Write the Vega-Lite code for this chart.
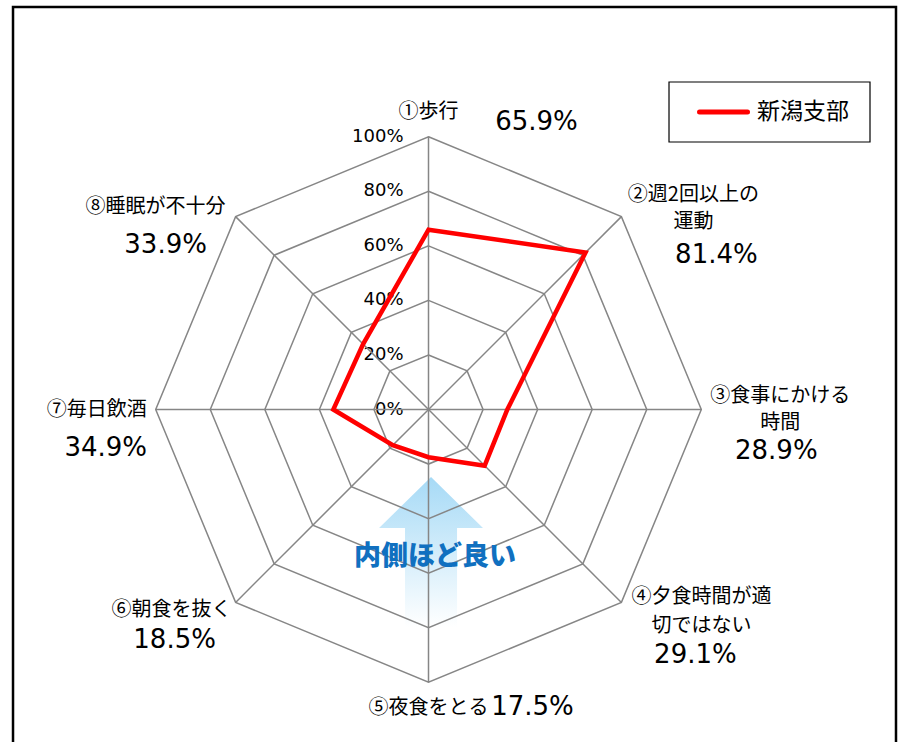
{
"$schema":"https://vega.github.io/schema/vega-lite/v6.json",
"width":899,"height":742,"padding":0,"autosize":{"type":"none"},
"background":"#ffffff",
"config":{"view":{"stroke":null},"font":"Noto Sans CJK JP"},
"datasets":{
 "scores":[
  {"k":0,"name":"①歩行","value":65.9},
  {"k":1,"name":["②週2回以上の","運動"],"value":81.4},
  {"k":2,"name":["③食事にかける","時間"],"value":28.9},
  {"k":3,"name":["④夕食時間が適","切ではない"],"value":29.1},
  {"k":4,"name":"⑤夜食をとる","value":17.5},
  {"k":5,"name":"⑥朝食を抜く","value":18.5},
  {"k":6,"name":"⑦毎日飲酒","value":34.9},
  {"k":7,"name":"⑧睡眠が不十分","value":33.9}],
 "rings":[
  {"level":20,"k":[0,1,2,3,4,5,6,7]},
  {"level":40,"k":[0,1,2,3,4,5,6,7]},
  {"level":60,"k":[0,1,2,3,4,5,6,7]},
  {"level":80,"k":[0,1,2,3,4,5,6,7]},
  {"level":100,"k":[0,1,2,3,4,5,6,7]}],
 "ticks":[{"level":0},{"level":20},{"level":40},{"level":60},{"level":80},{"level":100}],
 "one":[{"item":"frame"}]
},
"layer":[
 {"data":{"name":"one"},"mark":{"type":"rect","filled":false,"stroke":"#000000","strokeWidth":2.5},
  "encoding":{
   "x":{"datum":-152.31,"type":"quantitative","scale":{"domain":[-157.08,172.47],"nice":false,"zero":false},"axis":null},
   "x2":{"datum":171.37},
   "y":{"datum":147.55,"type":"quantitative","scale":{"domain":[-121.88,150.11],"nice":false,"zero":false},"axis":null},
   "y2":{"datum":-140}}},
 {"data":{"name":"one"},"mark":{"type":"point","shape":"M0,-1L0.693,-0.32L0.347,-0.32L0.347,1L-0.347,1L-0.347,-0.32L-0.693,-0.32Z","size":22500,"filled":true,"opacity":1,"strokeWidth":0,
   "fill":{"gradient":"linear","x1":0,"y1":0,"x2":0,"y2":1,"stops":[{"offset":0,"color":"#a6daf6"},{"offset":1,"color":"#ffffff"}]}},
  "encoding":{
   "x":{"datum":0.92,"type":"quantitative","scale":{"domain":[-157.08,172.47],"nice":false,"zero":false},"axis":null},
   "y":{"datum":-52.24,"type":"quantitative","scale":{"domain":[-121.88,150.11],"nice":false,"zero":false},"axis":null}}},
 {"data":{"name":"rings"},
  "transform":[{"flatten":["k"]},{"calculate":"datum.level*sin(datum.k*PI/4)","as":"ax"},{"calculate":"datum.level*cos(datum.k*PI/4)","as":"ay"}],
  "mark":{"type":"line","interpolate":"linear-closed","color":"#868686","strokeWidth":1.5},
  "encoding":{
   "x":{"field":"ax","type":"quantitative","scale":{"domain":[-157.08,172.47],"nice":false,"zero":false},"axis":null},
   "y":{"field":"ay","type":"quantitative","scale":{"domain":[-121.88,150.11],"nice":false,"zero":false},"axis":null},
   "detail":{"field":"level"},"order":{"field":"k"}}},
 {"data":{"name":"ticks"},"transform":[{"calculate":"datum.level+'%'","as":"tl"},{"calculate":"0","as":"zx"}],
  "mark":{"type":"text","align":"right","baseline":"middle","dx":-25,"fontSize":18,"font":"DejaVu Sans","color":"#000000"},
  "encoding":{
   "x":{"field":"zx","type":"quantitative","scale":{"domain":[-157.08,172.47],"nice":false,"zero":false},"axis":null},
   "y":{"field":"level","type":"quantitative","scale":{"domain":[-121.88,150.11],"nice":false,"zero":false},"axis":null},
   "text":{"field":"tl"}}},
 {"data":{"name":"scores"},
  "transform":[
   {"calculate":"100*sin(datum.k*PI/4)","as":"ax"},
   {"calculate":"100*cos(datum.k*PI/4)","as":"ay"},
   {"calculate":"datum.value*sin(datum.k*PI/4)","as":"vx"},
   {"calculate":"datum.value*cos(datum.k*PI/4)","as":"vy"},
   {"calculate":"0","as":"zx"},
   {"calculate":"format(datum.value,'.1f')+'%'","as":"vlabel"}
  ],
  "encoding":{
   "x":{"field":"ax","type":"quantitative","scale":{"domain":[-157.08,172.47],"nice":false,"zero":false},"axis":null},
   "y":{"field":"ay","type":"quantitative","scale":{"domain":[-121.88,150.11],"nice":false,"zero":false},"axis":null}
  },
  "layer":[
   {"mark":{"type":"rule","color":"#868686","strokeWidth":1.5},
    "encoding":{"x":{"field":"zx","type":"quantitative"},"y":{"field":"zx","type":"quantitative"},"x2":{"field":"ax"},"y2":{"field":"ay"}}},
   {"mark":{"type":"line","interpolate":"linear-closed","color":"#ff0000","strokeWidth":4.5},
    "encoding":{"x":{"field":"vx","type":"quantitative"},"y":{"field":"vy","type":"quantitative"},"order":{"field":"k"}}},
   {"transform":[{"filter":"datum.k==0"}],"mark":{"type":"text","fontSize":20,"lineHeight":27,"color":"#000000","baseline":"middle","dx":0,"dy":-25},"encoding":{"text":{"field":"name"}}},
   {"transform":[{"filter":"datum.k==1"}],"mark":{"type":"text","fontSize":20,"lineHeight":27,"color":"#000000","baseline":"middle","dx":72,"dy":-22},"encoding":{"text":{"field":"name"}}},
   {"transform":[{"filter":"datum.k==2"}],"mark":{"type":"text","fontSize":20,"lineHeight":27,"color":"#000000","baseline":"middle","dx":79,"dy":-14},"encoding":{"text":{"field":"name"}}},
   {"transform":[{"filter":"datum.k==3"}],"mark":{"type":"text","fontSize":20,"lineHeight":29,"color":"#000000","baseline":"middle","dx":80,"dy":-5},"encoding":{"text":{"field":"name"}}},
   {"transform":[{"filter":"datum.k==4"}],"mark":{"type":"text","fontSize":20,"lineHeight":27,"color":"#000000","baseline":"middle","dx":0,"dy":26},"encoding":{"text":{"field":"name"}}},
   {"transform":[{"filter":"datum.k==5"}],"mark":{"type":"text","fontSize":20,"lineHeight":27,"color":"#000000","baseline":"middle","dx":-64,"dy":8},"encoding":{"text":{"field":"name"}}},
   {"transform":[{"filter":"datum.k==6"}],"mark":{"type":"text","fontSize":20,"lineHeight":27,"color":"#000000","baseline":"middle","dx":-59,"dy":0},"encoding":{"text":{"field":"name"}}},
   {"transform":[{"filter":"datum.k==7"}],"mark":{"type":"text","fontSize":20,"lineHeight":27,"color":"#000000","baseline":"middle","dx":-80,"dy":-10},"encoding":{"text":{"field":"name"}}},
   {"transform":[{"filter":"datum.k==0"}],"mark":{"type":"text","fontSize":26,"font":"DejaVu Sans","color":"#000000","baseline":"middle","dx":108,"dy":-15},"encoding":{"text":{"field":"vlabel"}}},
   {"transform":[{"filter":"datum.k==1"}],"mark":{"type":"text","fontSize":26,"font":"DejaVu Sans","color":"#000000","baseline":"middle","dx":95,"dy":38},"encoding":{"text":{"field":"vlabel"}}},
   {"transform":[{"filter":"datum.k==2"}],"mark":{"type":"text","fontSize":26,"font":"DejaVu Sans","color":"#000000","baseline":"middle","dx":75,"dy":41},"encoding":{"text":{"field":"vlabel"}}},
   {"transform":[{"filter":"datum.k==3"}],"mark":{"type":"text","fontSize":26,"font":"DejaVu Sans","color":"#000000","baseline":"middle","dx":74,"dy":53},"encoding":{"text":{"field":"vlabel"}}},
   {"transform":[{"filter":"datum.k==4"}],"mark":{"type":"text","fontSize":26,"font":"DejaVu Sans","color":"#000000","baseline":"middle","dx":104,"dy":25},"encoding":{"text":{"field":"vlabel"}}},
   {"transform":[{"filter":"datum.k==5"}],"mark":{"type":"text","fontSize":26,"font":"DejaVu Sans","color":"#000000","baseline":"middle","dx":-61,"dy":38},"encoding":{"text":{"field":"vlabel"}}},
   {"transform":[{"filter":"datum.k==6"}],"mark":{"type":"text","fontSize":26,"font":"DejaVu Sans","color":"#000000","baseline":"middle","dx":-50,"dy":38},"encoding":{"text":{"field":"vlabel"}}},
   {"transform":[{"filter":"datum.k==7"}],"mark":{"type":"text","fontSize":26,"font":"DejaVu Sans","color":"#000000","baseline":"middle","dx":-70,"dy":28},"encoding":{"text":{"field":"vlabel"}}}
  ]
 },
 {"data":{"name":"one"},"mark":{"type":"text","text":"内側ほど良い","fontSize":27,"fontWeight":900,"color":"#1070c0","align":"center","baseline":"middle"},
  "encoding":{
   "x":{"datum":2.39,"type":"quantitative","scale":{"domain":[-157.08,172.47],"nice":false,"zero":false},"axis":null},
   "y":{"datum":-54.07,"type":"quantitative","scale":{"domain":[-121.88,150.11],"nice":false,"zero":false},"axis":null}}},
 {"data":{"name":"one"},"mark":{"type":"rect","fill":"#ffffff","stroke":"#000000","strokeWidth":1.2},
  "encoding":{
   "x":{"datum":88.16,"type":"quantitative","scale":{"domain":[-157.08,172.47],"nice":false,"zero":false},"axis":null},
   "x2":{"datum":161.84},
   "y":{"datum":120.05,"type":"quantitative","scale":{"domain":[-121.88,150.11],"nice":false,"zero":false},"axis":null},
   "y2":{"datum":98.06}}},
 {"data":{"name":"one"},"mark":{"type":"rule","color":"#ff0000","strokeWidth":5,"strokeCap":"round"},
  "encoding":{
   "x":{"datum":99.34,"type":"quantitative","scale":{"domain":[-157.08,172.47],"nice":false,"zero":false},"axis":null},
   "x2":{"datum":116.94},
   "y":{"datum":109.05,"type":"quantitative","scale":{"domain":[-121.88,150.11],"nice":false,"zero":false},"axis":null}}},
 {"data":{"name":"one"},"mark":{"type":"text","text":"新潟支部","fontSize":23,"color":"#000000","align":"left","baseline":"middle"},
  "encoding":{
   "x":{"datum":120.42,"type":"quantitative","scale":{"domain":[-157.08,172.47],"nice":false,"zero":false},"axis":null},
   "y":{"datum":109.05,"type":"quantitative","scale":{"domain":[-121.88,150.11],"nice":false,"zero":false},"axis":null}}}
]
}
